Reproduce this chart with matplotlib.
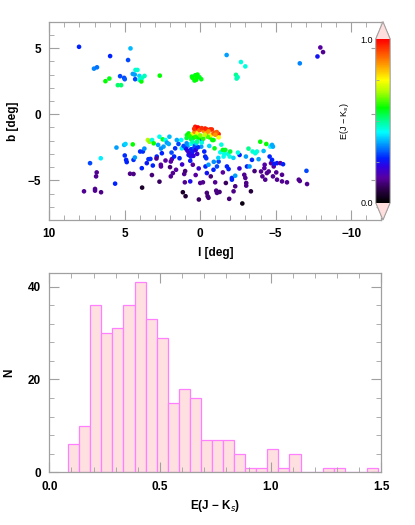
import numpy as np
import matplotlib
matplotlib.use("Agg")
import matplotlib.pyplot as plt
from matplotlib.colors import LinearSegmentedColormap
from matplotlib.ticker import MultipleLocator, FixedLocator

plt.rcParams['font.family'] = ['Liberation Sans', 'DejaVu Sans']
plt.rcParams['mathtext.fontset'] = 'custom'
plt.rcParams['mathtext.rm'] = 'Liberation Sans:bold'

# stars: galactic longitude, latitude (deg) and colour excess E(J-Ks)
stars = [
    # upper group
    (8.03, 5.10, 0.27), (7.04, 3.45, 0.34), (6.84, 3.55, 0.33), (5.97, 4.40, 0.27),
    (6.28, 2.50, 0.58), (6.02, 2.70, 0.57), (5.46, 2.20, 0.52), (5.24, 2.20, 0.52),
    (5.31, 2.88, 0.30), (5.04, 2.75, 0.30), (5.00, 2.65, 0.31), (4.78, 4.10, 0.30),
    (4.62, 4.98, 0.38), (4.47, 3.05, 0.36), (4.34, 3.00, 0.36), (4.29, 3.35, 0.46),
    (4.16, 3.35, 0.46), (4.31, 2.65, 0.30), (4.03, 2.90, 0.40), (4.03, 2.60, 0.45),
    (3.90, 2.48, 0.58), (3.85, 2.75, 0.47), (3.69, 2.90, 0.47), (2.68, 2.92, 0.58),
    (0.55, 2.85, 0.57), (0.33, 2.95, 0.57), (0.18, 3.00, 0.58), (0.05, 2.80, 0.56),
    (0.38, 2.55, 0.57), (0.27, 2.60, 0.58), (-0.07, 2.65, 0.57), (0.51, 2.75, 0.58),
    (0.22, 2.80, 0.58), (-1.75, 4.48, 0.36), (-2.70, 3.95, 0.45), (-2.99, 3.62, 0.45),
    (-2.37, 2.98, 0.50), (-2.48, 2.80, 0.47), (-2.41, 2.70, 0.48), (-6.60, 3.85, 0.34),
    (-7.77, 4.37, 0.25), (-7.96, 5.05, 0.15), (-8.14, 4.70, 0.14),
    # lower group
    (7.70, -5.83, 0.14), (7.30, -3.70, 0.30), (6.97, -5.65, 0.14), (6.97, -5.78, 0.14),
    (6.90, -4.70, 0.14), (6.86, -4.40, 0.14), (6.57, -5.90, 0.13), (6.59, -3.33, 0.42),
    (5.64, -5.25, 0.27), (5.55, -2.52, 0.36), (5.04, -2.32, 0.38), (4.95, -2.25, 0.40),
    (5.00, -3.12, 0.28), (4.91, -3.45, 0.27), (4.87, -3.62, 0.27), (4.65, -4.50, 0.13),
    (4.42, -4.52, 0.13), (4.47, -2.28, 0.58), (4.42, -3.45, 0.28), (4.33, -3.27, 0.36),
    (3.98, -2.82, 0.28), (3.80, -2.82, 0.28), (3.85, -5.55, 0.05), (3.87, -4.08, 0.27),
    (3.54, -3.70, 0.26), (3.43, -3.40, 0.28), (3.30, -3.38, 0.28), (3.47, -1.95, 0.68),
    (3.36, -2.08, 0.66), (3.19, -1.95, 0.45), (3.14, -3.88, 0.27), (3.08, -2.20, 0.58),
    (2.88, -3.20, 0.27), (2.90, -3.35, 0.14), (2.79, -2.32, 0.36), (2.70, -1.70, 0.44),
    (2.61, -3.82, 0.15), (2.60, -3.95, 0.15), (2.54, -2.95, 0.27), (2.48, -1.90, 0.57),
    (2.43, -2.45, 0.36), (2.30, -1.95, 0.44), (2.21, -2.15, 0.36), (2.08, -2.25, 0.37),
    (2.04, -1.70, 0.38), (1.95, -3.58, 0.15), (1.88, -3.40, 0.16), (1.95, -4.70, 0.14),
    (1.81, -4.45, 0.14), (1.73, -3.20, 0.27), (1.66, -2.58, 0.28), (1.55, -1.95, 0.37),
    (1.44, -2.25, 0.30), (1.37, -3.33, 0.27), (1.26, -1.95, 0.43), (1.22, -2.58, 0.42),
    (1.15, -5.90, 0.05), (1.06, -4.52, 0.14), (1.02, -5.15, 0.14), (0.97, -6.20, 0.06),
    (0.88, -1.58, 0.57), (0.77, -1.45, 0.58), (0.84, -2.40, 0.36), (0.77, -3.08, 0.27),
    (0.66, -3.52, 0.26), (0.62, -3.20, 0.27), (0.55, -2.95, 0.26), (0.49, -3.82, 0.15),
    (0.62, -2.25, 0.43), (0.66, -5.08, 0.24), (0.51, -1.52, 0.74), (0.44, -1.78, 0.58),
    (0.33, -0.95, 0.98), (0.22, -1.08, 0.97), (0.38, -1.32, 0.86), (0.18, -1.45, 0.75),
    (0.09, -6.45, 0.10), (0.00, -5.20, 0.14), (-0.18, -5.15, 0.14), (-0.11, -1.95, 0.30),
    (-0.07, -2.45, 0.36), (-0.22, -1.25, 0.86), (-0.33, -1.08, 0.97), (-0.44, -1.15, 0.96),
    (-0.40, -1.45, 0.84), (-0.44, -5.95, 0.12), (-0.49, -6.20, 0.12), (-0.55, -6.32, 0.12),
    (-0.27, -2.82, 0.27), (-0.33, -3.20, 0.27), (-0.40, -3.33, 0.28), (-0.35, -3.95, 0.27),
    (-0.44, -4.45, 0.25), (-0.55, -3.82, 0.36), (-0.62, -1.75, 0.58), (-0.66, -1.15, 0.97),
    (-0.77, -1.15, 0.96), (-0.71, -1.58, 0.74), (-0.80, -1.95, 0.57), (-0.88, -1.45, 0.90),
    (-0.99, -1.40, 0.92), (-0.88, -1.95, 0.58), (-0.95, -2.58, 0.57), (-0.99, -5.15, 0.14),
    (-1.06, -5.78, 0.13), (-1.11, -5.95, 0.13), (-1.22, -1.50, 0.96), (-1.22, -1.75, 0.74),
    (-1.28, -5.88, 0.12), (-1.33, -2.88, 0.44), (-1.50, -2.70, 0.57), (-1.59, -3.00, 0.45),
    (-1.66, -2.70, 0.56), (-1.84, -3.00, 0.45), (-1.92, -6.40, 0.12), (-1.99, -2.82, 0.55),
    (-1.95, -3.20, 0.45), (-1.77, -3.95, 0.27), (-1.88, -4.15, 0.27), (-1.55, -3.20, 0.44),
    (-1.22, -3.58, 0.30), (-1.11, -3.95, 0.30), (-0.88, -4.20, 0.27), (-2.10, -4.82, 0.27),
    (-2.10, -4.95, 0.27), (-2.21, -5.83, 0.13), (-2.32, -4.65, 0.36), (-2.32, -5.45, 0.13),
    (-2.61, -3.08, 0.27), (-2.79, -6.75, 0.02), (-2.92, -4.58, 0.14), (-2.99, -4.82, 0.14),
    (-3.03, -3.20, 0.36), (-3.05, -5.20, 0.13), (-3.05, -5.40, 0.13), (-3.10, -3.95, 0.27),
    (-3.27, -3.95, 0.36), (-3.36, -5.83, 0.07), (-3.43, -3.45, 0.28), (-3.47, -2.82, 0.46),
    (-3.65, -2.95, 0.45), (-3.76, -2.82, 0.45), (-3.87, -3.40, 0.36), (-3.98, -2.08, 0.58),
    (-4.03, -4.33, 0.14), (-4.12, -4.70, 0.14), (-4.20, -2.78, 0.38), (-4.25, -4.08, 0.15),
    (-4.27, -3.82, 0.16), (-4.31, -4.95, 0.14), (-4.38, -2.25, 0.58), (-4.42, -4.45, 0.14),
    (-4.54, -4.33, 0.14), (-4.60, -3.20, 0.27), (-4.65, -2.45, 0.43), (-4.69, -3.70, 0.15),
    (-4.76, -2.32, 0.37), (-4.82, -2.45, 0.37), (-4.76, -3.45, 0.27), (-4.87, -3.95, 0.15),
    (-4.82, -4.70, 0.14), (-4.91, -3.75, 0.26), (-5.09, -3.70, 0.26), (-5.04, -4.40, 0.14),
    (-5.09, -4.95, 0.14), (-5.31, -3.70, 0.15), (-5.42, -4.58, 0.14), (-5.49, -3.78, 0.27),
    (-5.42, -5.08, 0.14), (-5.75, -5.15, 0.14), (-6.53, -4.95, 0.14), (-6.60, -5.05, 0.14),
    (-7.04, -4.28, 0.30), (-7.08, -5.28, 0.14),
    # dense core near the centre
    (0.95, -2.60, 0.25), (0.85, -2.75, 0.22), (0.75, -2.90, 0.20), (0.60, -2.65, 0.27),
    (0.50, -2.80, 0.25), (0.40, -2.55, 0.30), (0.30, -2.70, 0.22), (0.20, -3.00, 0.20),
    (0.70, -3.10, 0.23), (0.45, -3.15, 0.22), (0.35, -2.35, 0.30), (0.15, -2.50, 0.28),
    (1.10, -2.40, 0.30), (0.90, -2.20, 0.35), (0.25, -2.20, 0.40), (0.90, -1.80, 0.55),
    (0.70, -1.65, 0.60), (0.60, -1.90, 0.55), (0.30, -1.70, 0.60), (0.10, -1.80, 0.58),
    (0.00, -1.60, 0.65), (-0.20, -1.85, 0.60), (-0.50, -1.70, 0.62), (-0.30, -1.55, 0.70),
    (0.20, -2.05, 0.50), (-0.10, -2.15, 0.45), (0.50, -2.10, 0.48), (0.40, -1.10, 0.95),
    (0.15, -1.00, 1.00), (0.05, -1.20, 0.90), (-0.10, -1.05, 0.95), (-1.10, -1.35, 0.90),
    (-1.00, -1.55, 0.85), (-0.55, -1.30, 0.85),
    (2.30, -3.50, 0.15), (2.00, -4.00, 0.12), (1.60, -4.20, 0.15), (1.20, -3.80, 0.20),
    (1.00, -4.30, 0.12), (0.30, -4.60, 0.15), (0.10, -4.10, 0.20), (-0.70, -4.70, 0.12),
    (-1.50, -4.40, 0.15), (-1.70, -5.20, 0.10), (-2.60, -4.10, 0.20), (-3.60, -4.30, 0.12),
    (3.20, -4.60, 0.12), (2.70, -5.10, 0.10), (-0.90, -3.60, 0.35), (-2.20, -3.30, 0.40),
    (-2.50, -2.90, 0.45), (-3.20, -2.60, 0.50), (1.90, -2.90, 0.30), (2.60, -2.60, 0.35),
    (3.70, -2.60, 0.35), (-1.40, -2.30, 0.45), (-0.60, -2.40, 0.40), (-1.20, -3.30, 0.40),
]
l_deg = np.array([s[0] for s in stars])
b_deg = np.array([s[1] for s in stars])
ejk = np.array([s[2] for s in stars])

# histogram of E(J-Ks), bins of 0.05 starting at 0.085
bin_width = 0.05
bin_start = 0.085
counts = [6, 10, 36, 30, 31, 36, 41, 33, 29, 15, 18, 16, 7, 7,
          7, 4, 1, 1, 5, 1, 4, 0, 0, 1, 1, 0, 0, 1]
bin_left = bin_start + bin_width * np.arange(len(counts))

# IDL-like rainbow colour table
rainbow = LinearSegmentedColormap.from_list("idl_rainbow", [
    (0.00, '#000000'), (0.08, '#2c0048'), (0.15, '#5800a0'), (0.22, '#3000e0'),
    (0.27, '#0020ff'), (0.35, '#0090ff'), (0.43, '#00ffff'), (0.50, '#00ff90'),
    (0.58, '#00ff00'), (0.68, '#b0ff00'), (0.75, '#ffff00'), (0.87, '#ff8000'),
    (1.00, '#ff0000')])
rainbow.set_over('#ffdede')
rainbow.set_under('#ffdede')

grey = '#a0a0a0'
W, H = 415, 525
fig = plt.figure(figsize=(W / 100, H / 100), dpi=100)


def style_axes(ax):
    for sp in ax.spines.values():
        sp.set_color(grey)
        sp.set_linewidth(0.9)
    ax.tick_params(which='both', direction='in', top=True, right=True,
                   color=grey, labelsize=8.5, pad=6)
    ax.tick_params(which='major', length=7)
    ax.tick_params(which='minor', length=3.5)
    for lab in ax.get_xticklabels() + ax.get_yticklabels():
        lab.set_fontweight('bold')


# top panel: sky map
ax1 = fig.add_axes([49.3 / W, 1 - 220 / H, 332 / W, 198.3 / H])
sc = ax1.scatter(l_deg, b_deg, c=ejk, cmap=rainbow, vmin=0, vmax=1, s=11,
                 linewidths=0, zorder=3)
ax1.set_xlim(10, -12)
ax1.set_ylim(-8, 7)
ax1.xaxis.set_major_locator(FixedLocator([10, 5, 0, -5, -10]))
ax1.xaxis.set_minor_locator(MultipleLocator(1))
ax1.yaxis.set_major_locator(FixedLocator([-5, 0, 5]))
ax1.yaxis.set_minor_locator(MultipleLocator(1))
style_axes(ax1)
ax1.set_xlabel('l [deg]', fontsize=8.5, fontweight='bold', labelpad=5)
ax1.set_ylabel('b [deg]', fontsize=8.5, fontweight='bold', labelpad=6)

# colour bar with pink end triangles
cax = fig.add_axes([375.7 / W, 1 - 220 / H, 14.5 / W, 198.3 / H])
cb = fig.colorbar(sc, cax=cax, extend='both', extendfrac=0.106)
cb.outline.set_edgecolor(grey)
cb.outline.set_linewidth(0.8)
cb.set_ticks([0.0, 1.0])
cb.ax.yaxis.set_minor_locator(FixedLocator([0.25, 0.5, 0.75]))
cb.ax.yaxis.set_ticks_position('left')
cb.ax.yaxis.set_label_position('left')
cb.ax.tick_params(which='both', direction='in', color=grey, labelsize=6.5, pad=2)
cb.ax.tick_params(which='major', length=0)
cb.ax.tick_params(which='minor', length=2.5)
cb.ax.set_yticklabels(['0.0', '1.0'])
cb.set_label('E(J \u2212 K$_{s}$)', fontsize=6.5, labelpad=7)

# bottom panel: histogram
ax2 = fig.add_axes([49.3 / W, 1 - 472.3 / H, 332 / W, 199.6 / H])
ax2.bar(bin_left, counts, width=bin_width, align='edge', color='#ffe0e0',
        edgecolor='#ff80ff', linewidth=0.9)
ax2.set_xlim(0, 1.5)
ax2.set_ylim(0, 43)
ax2.xaxis.set_major_locator(MultipleLocator(0.5))
ax2.xaxis.set_minor_locator(MultipleLocator(0.1))
ax2.yaxis.set_major_locator(MultipleLocator(20))
ax2.yaxis.set_minor_locator(MultipleLocator(4))
ax2.xaxis.set_major_formatter(plt.FormatStrFormatter('%.1f'))
style_axes(ax2)
ax2.set_xlabel('E(J \u2212 K$_{s}$)', fontsize=8.5, fontweight='bold', labelpad=4)
ax2.set_ylabel('N', fontsize=8.5, fontweight='bold', labelpad=9)

fig.savefig('out.png', dpi=100)
